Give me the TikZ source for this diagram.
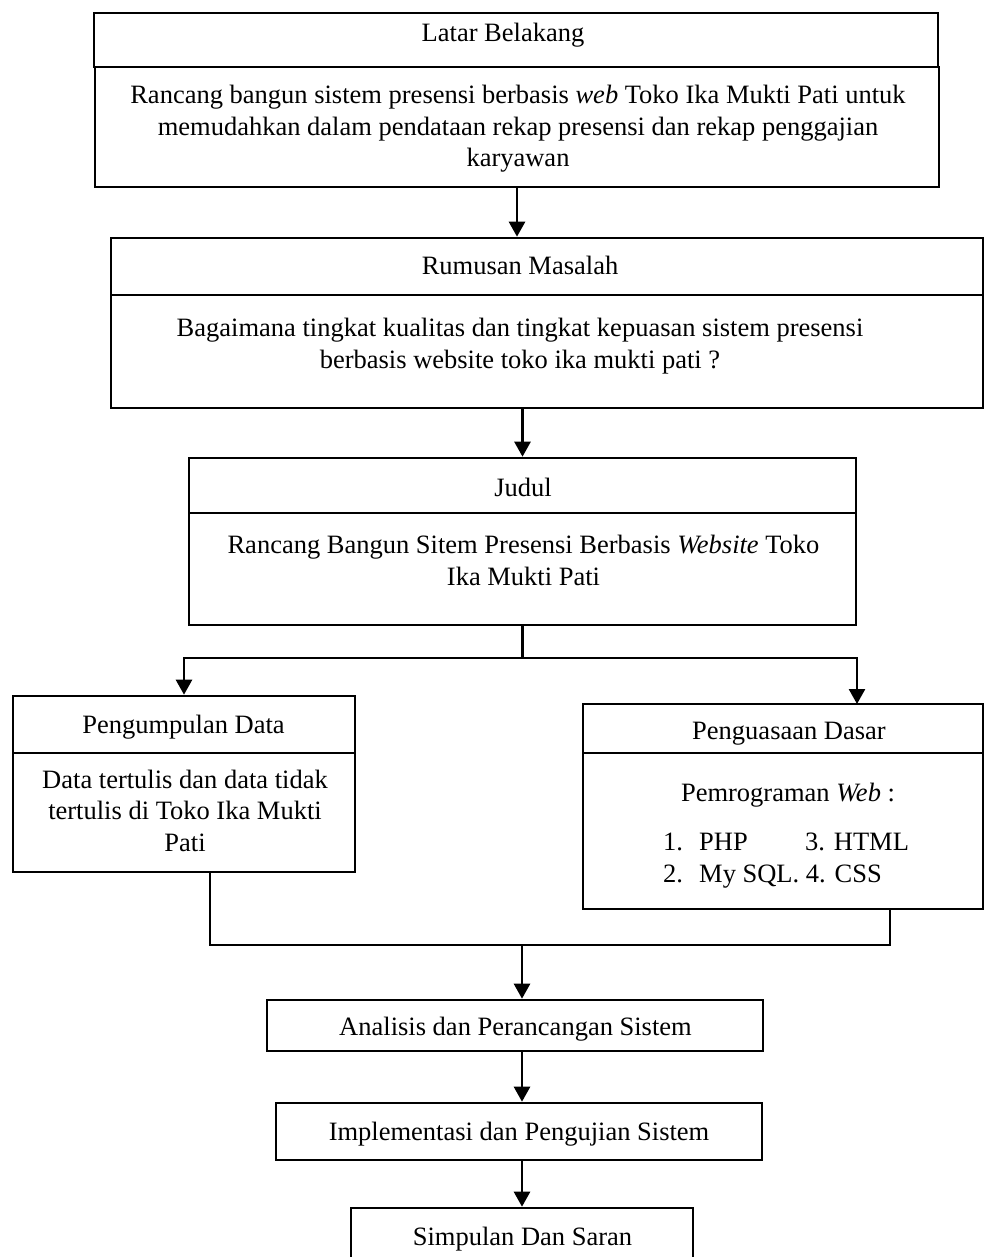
\documentclass[tikz,border=0pt]{standalone}
\usepackage{fontspec}
\setmainfont{Liberation Serif}
\usetikzlibrary{arrows.meta}
\begin{document}
\begin{tikzpicture}[x=1pt,y=-1pt,
  frame/.style={draw, line width=2.6pt, rectangle, inner sep=0pt},
  txt/.style={font=\fontsize{26.5}{31.5}\selectfont, align=center, inner sep=0pt, anchor=base},
  link/.style={line width=2.6pt},
  flow/.style={line width=2.6pt, -{Triangle[width=16pt,length=15pt]}}]
\useasboundingbox (0,0) rectangle (985,1257);

% Latar Belakang (text nodes are anchored at the baseline of their last line)
\node[frame, minimum width=844pt, minimum height=54pt]  (lbH) at (516,40) {};
\node[frame, minimum width=844pt, minimum height=120pt] (lbB) at (517,127) {};
\node[txt] (lbHt) at (503,42) {Latar Belakang};
\node[txt] (lbBt) at (518,167) {Rancang bangun sistem presensi berbasis \textit{web} Toko Ika Mukti Pati untuk\\
  memudahkan dalam pendataan rekap presensi dan rekap penggajian\\ karyawan};

% Rumusan Masalah
\node[frame, minimum width=872pt, minimum height=57pt]  (rmH) at (547,266.5) {};
\node[frame, minimum width=872pt, minimum height=113pt] (rmB) at (547,351.5) {};
\node[txt] (rmHt) at (520,274) {Rumusan Masalah};
\node[txt] (rmBt) at (520,368) {Bagaimana tingkat kualitas dan tingkat kepuasan sistem presensi\\
  berbasis website toko ika mukti pati ?};

% Judul
\node[frame, minimum width=667pt, minimum height=55pt]  (jdH) at (522.5,485.5) {};
\node[frame, minimum width=667pt, minimum height=112pt] (jdB) at (522.5,569) {};
\node[txt] (jdHt) at (523,496) {Judul};
\node[txt] (jdBt) at (523.5,585) {Rancang Bangun Sitem Presensi Berbasis \textit{Website} Toko\\ Ika Mukti Pati};

% Pengumpulan Data
\node[frame, minimum width=342pt, minimum height=57pt]  (pdH) at (184,724.5) {};
\node[frame, minimum width=342pt, minimum height=119pt] (pdB) at (184,812.5) {};
\node[txt] (pdHt) at (183.5,733) {Pengumpulan Data};
\node[txt] (pdBt) at (185,851) {Data tertulis dan data tidak\\ tertulis di Toko Ika Mukti\\ Pati};

% Penguasaan Dasar
\node[frame, minimum width=400pt, minimum height=49pt]  (pgH) at (783,728.5) {};
\node[frame, minimum width=400pt, minimum height=156pt] (pgB) at (783,831) {};
\node[txt] (pgHt) at (789,739) {Penguasaan Dasar};
\node[txt] (pgBt) at (788,801) {Pemrograman \textit{Web} :};
\node[txt, anchor=base west, align=left] (pgL) at (663,882)
  {\makebox[36pt][l]{1.}\makebox[106pt][l]{PHP}3. HTML\\
   \makebox[36pt][l]{2.}My SQL. 4. CSS};

% Lower chain
\node[frame, minimum width=496pt, minimum height=51pt] (an) at (515,1025.5) {};
\node[txt] (ant) at (515.5,1035) {Analisis dan Perancangan Sistem};
\node[frame, minimum width=486pt, minimum height=57pt] (im) at (519,1131.5) {};
\node[txt] (imt) at (519,1140) {Implementasi dan Pengujian Sistem};
\node[frame, minimum width=342pt, minimum height=58pt] (si) at (522,1237) {};
\node[txt] (sit) at (522.5,1245) {Simpulan Dan Saran};

% Junction points
\coordinate (split) at (522.5,658);
\coordinate (pgIn)  at (857,704);
\coordinate (pdOut) at (210,872);
\coordinate (pgOut) at (890,909);
\coordinate (mL) at (210,945);
\coordinate (mR) at (890,945);
\coordinate (mC) at (522,945);

% Connectors
\draw[flow] (lbB.south) -- (lbB.south |- rmH.north);
\draw[flow] (jdH.north |- rmB.south) -- (jdH.north);
\draw[link] (jdB.south) -- (split);
\draw[flow] (split) -| (pdH.north);
\draw[flow] (split) -| (pgIn);
\draw[link] (pdOut) -- (mL) -- (mR) -- (pgOut);
\draw[flow] (mC) -- (mC |- an.north);
\draw[flow] (mC |- an.south) -- (mC |- im.north);
\draw[flow] (mC |- im.south) -- (mC |- si.north);
\end{tikzpicture}
\end{document}
